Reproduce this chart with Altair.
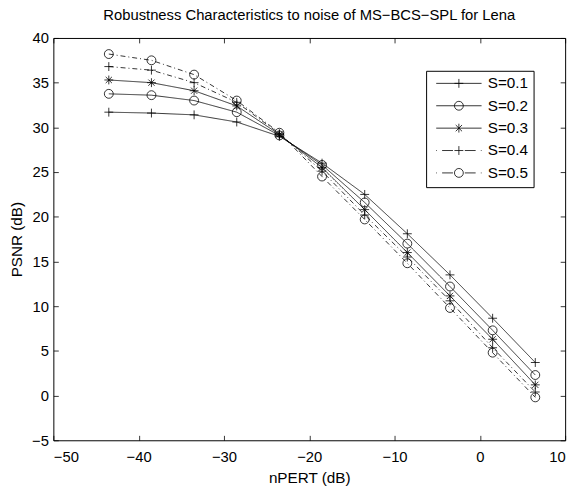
import altair as alt
import pandas as pd

# ---------------- data ----------------
x_vals = [-43.5, -38.5, -33.5, -28.5, -23.5, -18.5, -13.5, -8.5, -3.5, 1.5, 6.5]
s01 = [31.7, 31.6, 31.4, 30.6, 29.0, 26.0, 22.5, 18.1, 13.5, 8.65, 3.7]
s02 = [33.75, 33.6, 33.0, 31.7, 29.1, 25.8, 21.6, 17.0, 12.2, 7.3, 2.3]
s03 = [35.3, 35.0, 34.1, 32.4, 29.2, 25.5, 20.8, 16.0, 11.15, 6.3, 1.2]
s04 = [36.8, 36.4, 35.0, 32.8, 29.3, 25.1, 20.2, 15.5, 10.6, 5.35, 0.4]
s05 = [38.2, 37.5, 35.9, 33.0, 29.4, 24.5, 19.7, 14.8, 9.8, 4.8, -0.2]
series = ["S=0.1", "S=0.2", "S=0.3", "S=0.4", "S=0.5"]
x_ticks = [-50, -40, -30, -20, -10, 0, 10]
y_ticks = [-5, 0, 5, 10, 15, 20, 25, 30, 35, 40]

rows = []
for name, ys in zip(series, [s01, s02, s03, s04, s05]):
    for xv, yv in zip(x_vals, ys):
        rows.append({"nPERT": xv, "PSNR": yv, "S": name})
df = pd.DataFrame(rows)

# ---------------- styles ----------------
FONT = "Liberation Sans"
PLUS = "M-1,0L1,0M0,-1L0,1"
STAR = "M-1,0L1,0M0,-1L0,1M-0.7,-0.7L0.7,0.7M-0.7,0.7L0.7,-0.7"
marker_range = [PLUS, "circle", STAR, PLUS, "circle"]
dash_range = [[1, 0], [1, 0], [1, 0], [5, 3, 1, 3], [5, 3, 1, 3]]

SOLID = "M-4.6,0L4.6,0"
DASHDOT = "M-4.6,0L-4.45,0M-3.4,0L-1.2,0M1.2,0L3.4,0M4.45,0L4.6,0"
LPLUS = "M-0.9,0L0.9,0M0,-0.9L0,0.9"
LCIRC = "M0.9,0A0.9,0.9 0 1,1 -0.9,0A0.9,0.9 0 1,1 0.9,0"
LSTAR = "M0,-0.9L0,0.9M-0.64,-0.64L0.64,0.64M-0.64,0.64L0.64,-0.64"
legend_range = [SOLID + LPLUS, SOLID + LCIRC, SOLID + LSTAR,
                DASHDOT + LPLUS, DASHDOT + LCIRC]

xs = alt.Scale(domain=[-50, 10], nice=False, zero=False)
ys = alt.Scale(domain=[-5, 40], nice=False, zero=False)

common = dict(tickSize=5, offset=-5, domain=False, grid=False,
              tickColor="black", tickWidth=0.8,
              labelColor="black", labelFontSize=15, labelFont=FONT,
              titleFont=FONT, titleFontSize=15.5, titleFontWeight="normal",
              titleColor="black")

x_bottom = alt.Axis(orient="bottom", values=x_ticks, title="nPERT (dB)",
                    labelPadding=10, titlePadding=6, **common)
x_top = alt.Axis(orient="top", values=x_ticks, labels=False, title=None, **common)
y_left = alt.Axis(orient="left", values=y_ticks, title="PSNR (dB)",
                  labelPadding=5, titlePadding=7, **common)
y_right = alt.Axis(orient="right", values=y_ticks, labels=False, title=None, **common)

base = alt.Chart(df)

lines = base.mark_line(color="black", strokeWidth=0.8).encode(
    x=alt.X("nPERT:Q", scale=xs, axis=x_bottom),
    y=alt.Y("PSNR:Q", scale=ys, axis=y_left),
    strokeDash=alt.StrokeDash("S:N", scale=alt.Scale(domain=series, range=dash_range),
                              legend=None),
)

points = base.mark_point(filled=False, color="black", size=81, strokeWidth=0.8,
                         opacity=1).encode(
    x=alt.X("nPERT:Q", scale=xs, axis=x_top),
    y=alt.Y("PSNR:Q", scale=ys, axis=y_right),
    shape=alt.Shape("S:N", scale=alt.Scale(domain=series, range=marker_range),
                    legend=None),
)

legend_layer = base.transform_filter("false").mark_point(
    filled=False, color="black", strokeWidth=0.8).encode(
    x=alt.X("nPERT:Q", scale=xs, axis=None),
    y=alt.Y("PSNR:Q", scale=ys, axis=None),
    shape=alt.Shape("S:N", scale=alt.Scale(domain=series, range=legend_range),
                    legend=alt.Legend(
                        title=None, orient="none", legendX=378, legendY=33.3,
                        symbolSize=100, symbolOffset=20.5, labelOffset=21.5,
                        symbolStrokeWidth=0.8, symbolStrokeColor="black",
                        symbolOpacity=1,
                        labelFont=FONT, labelFontSize=15.5, labelColor="black",
                        strokeColor="black", fillColor="white", padding=5,
                        rowPadding=5.7, cornerRadius=0)),
)

chart = alt.layer(lines, points, legend_layer).resolve_scale(
    shape="independent"
).resolve_axis(
    x="independent", y="independent"
).properties(
    width=519, height=408,
    title=alt.TitleParams("Robustness Characteristics to noise of MS\u2212BCS\u2212SPL for Lena",
                          font=FONT, fontSize=15, fontWeight="normal", color="black",
                          anchor="middle", offset=8),
    autosize=alt.AutoSizeParams(type="none"),
    padding={"left": 46, "top": 27, "right": 10, "bottom": 45},
).configure_view(stroke="black", strokeWidth=1)

chart.save("out.html", embed_options={"renderer": "svg", "actions": False})
